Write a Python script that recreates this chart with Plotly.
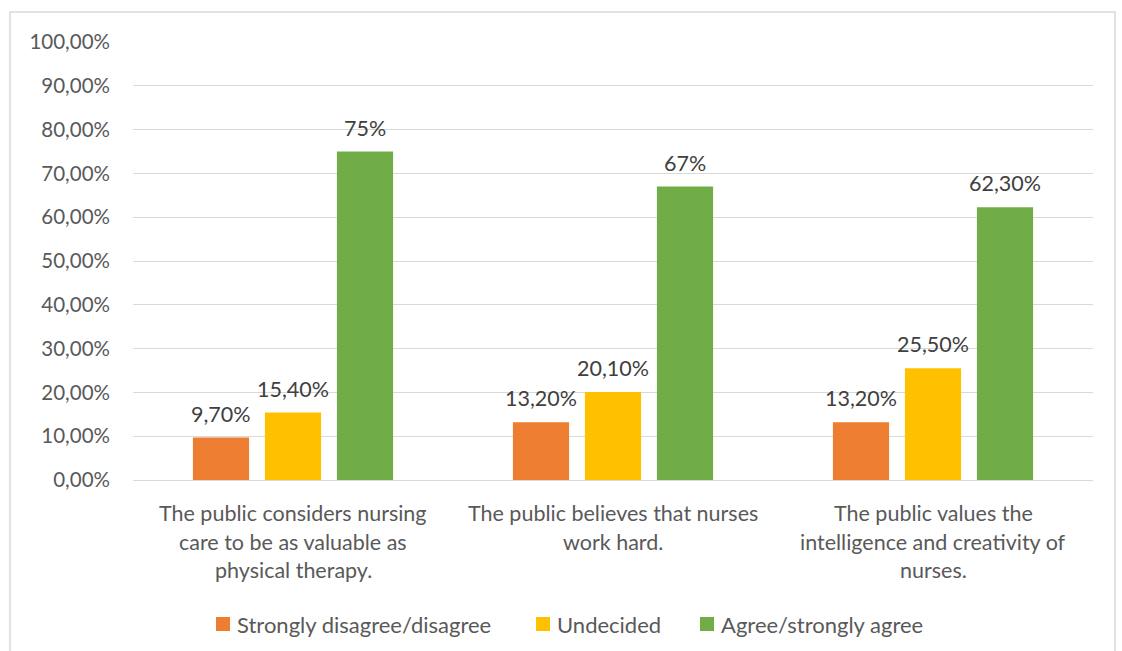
import plotly.graph_objects as go

# Survey statements (x categories), one list of text lines per statement
categories = [
    ["The public considers nursing", "care to be as valuable as", "physical therapy."],
    ["The public believes that nurses", "work hard."],
    ["The public values the", "intelligence and creativity of", "nurses."],
]
series_names = ["Strongly disagree/disagree", "Undecided", "Agree/strongly agree"]
disagree = [0.097, 0.132, 0.132]
undecided = [0.154, 0.201, 0.255]
agree = [0.75, 0.67, 0.623]
disagree_labels = ["9,70%", "13,20%", "13,20%"]
undecided_labels = ["15,40%", "20,10%", "25,50%"]
agree_labels = ["75%", "67%", "62,30%"]
y_ticks = [i / 10 for i in range(11)]

colors = ["#ED7D31", "#FFC000", "#70AD47"]
FONT = "Lato"
TEXT = "#595959"
values = [disagree, undecided, agree]
labels = [disagree_labels, undecided_labels, agree_labels]

W, H = 1122, 651
ML, MR, MT, MB = 133, 29, 42, 171
PW, PH = W - ML - MR, H - MT - MB


def px_x(px):
    return (px - ML) / PW


def px_y(py):
    return (H - MB - py) / PH


BARGAP = 0.325
slot = (1 - BARGAP) / 3  # width of one bar slot in category units

fig = go.Figure()
for name, vals, col in zip(series_names, values, colors):
    fig.add_trace(go.Bar(
        name=name, x=list(range(len(categories))), y=vals,
        marker=dict(color=col, line=dict(width=0)),
        hoverinfo="skip", showlegend=False,
    ))

annotations = []
# value labels above each bar
for j, (vals, labs) in enumerate(zip(values, labels)):
    for i, (v, t) in enumerate(zip(vals, labs)):
        annotations.append(dict(
            x=i + (j - 1) * slot, y=v, xref="x", yref="y",
            text=t, showarrow=False, yanchor="bottom", yshift=9,
            font=dict(family=FONT, size=21.5, color="#404040"),
        ))
# category labels, one annotation per line for wider line spacing
for i, lines in enumerate(categories):
    for k, line in enumerate(lines):
        annotations.append(dict(
            x=i, y=0, xref="x", yref="paper", text=line, showarrow=False,
            yanchor="middle", yshift=-(33 + 28.5 * k),
            font=dict(family=FONT, size=21.5, color=TEXT),
        ))

# legend row: colour key squares followed by series names
shapes = [dict(
    type="rect", xref="paper", yref="paper",
    x0=px_x(10), x1=px_x(1115), y0=px_y(700), y1=px_y(12),
    line=dict(color="#D9D9D9", width=1.5), fillcolor="rgba(0,0,0,0)",
    layer="below",
)]
legend_left = [216, 536, 700]
key = 14
legend_mid = 624
for name, col, lx in zip(series_names, colors, legend_left):
    shapes.append(dict(
        type="rect", xref="paper", yref="paper",
        x0=px_x(lx), x1=px_x(lx + key),
        y0=px_y(legend_mid + key / 2), y1=px_y(legend_mid - key / 2),
        line=dict(width=0), fillcolor=col,
    ))
    annotations.append(dict(
        x=px_x(lx + key + 5), y=px_y(legend_mid), xref="paper", yref="paper",
        text=name, showarrow=False, xanchor="left", yanchor="middle",
        font=dict(family=FONT, size=22, color=TEXT),
    ))

fig.update_layout(
    width=W, height=H,
    margin=dict(l=ML, r=MR, t=MT, b=MB),
    paper_bgcolor="white", plot_bgcolor="white",
    barmode="group", bargap=BARGAP, bargroupgap=0.22,
    separators=",.",
    font=dict(family=FONT, color=TEXT),
    annotations=annotations,
    shapes=shapes,
    showlegend=False,
)
fig.update_xaxes(
    range=[-0.5, len(categories) - 0.5],
    showticklabels=False, showgrid=False,
    showline=True, linecolor="#D9D9D9", linewidth=1, ticks="",
)
fig.update_yaxes(
    range=[0, 1], tickvals=y_ticks, tickformat=".2%",
    tickfont=dict(family=FONT, size=20.5, color=TEXT),
    showgrid=True, gridcolor="#D9D9D9", gridwidth=1,
    zeroline=False, showline=False, ticks="", ticklabelstandoff=22,
)

fig.write_html("out.html")
